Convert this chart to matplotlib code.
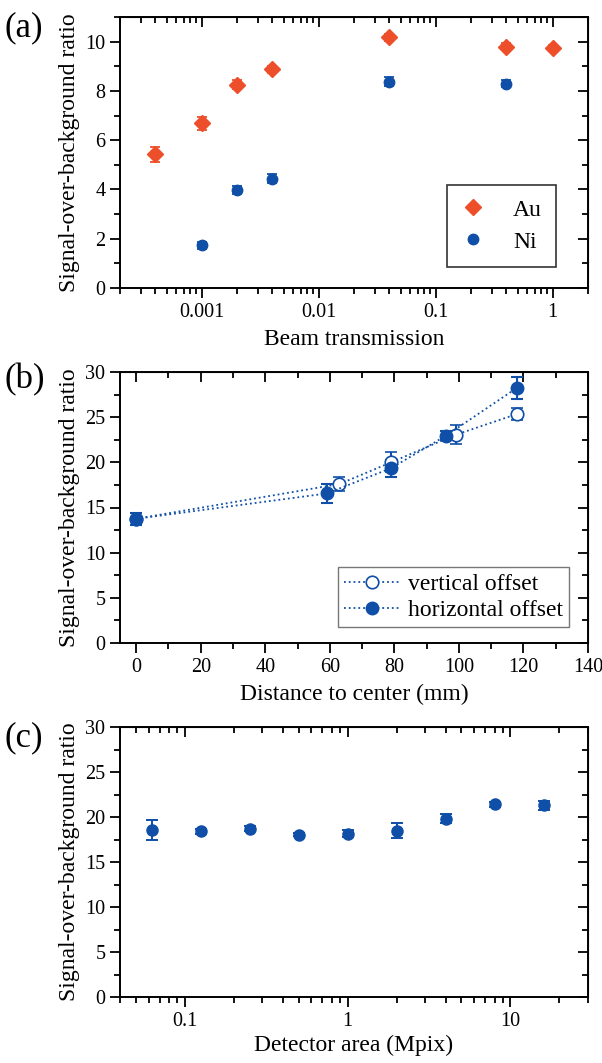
import numpy as np
import matplotlib
matplotlib.use("Agg")
import matplotlib.pyplot as plt
from matplotlib.ticker import LogLocator, MultipleLocator, FixedLocator, NullFormatter, FixedFormatter

plt.rcParams["font.family"] = ["Liberation Serif", "DejaVu Serif"]
plt.rcParams["mathtext.fontset"] = "stix"

ORANGE = "#EE4F2B"
BLUE = "#0F4FA8"

# (a) beam transmission
au_x = [0.0004, 0.001, 0.002, 0.004, 0.04, 0.4, 1.0]
au_y = [5.42, 6.68, 8.25, 8.87, 10.18, 9.80, 9.74]
au_err = [0.30, 0.25, 0.18, 0.15, 0.15, 0.14, 0.14]
ni_x = [0.001, 0.002, 0.004, 0.04, 0.4]
ni_y = [1.73, 3.98, 4.43, 8.38, 8.30]
ni_err = [0.15, 0.15, 0.18, 0.18, 0.15]

# (b) distance to center
vert_x = [0, 63, 79, 99, 118]
vert_y = [13.75, 17.6, 20.0, 23.05, 25.35]
vert_err = [0.65, 0.75, 1.1, 1.05, 0.7]
horiz_x = [0, 59, 79, 96, 118]
horiz_y = [13.75, 16.55, 19.35, 22.95, 28.25]
horiz_err = [0.65, 1.0, 0.95, 0.5, 1.2]

# (c) detector area
det_x = [0.0625, 0.125, 0.25, 0.5, 1, 2, 4, 8, 16]
det_y = [18.6, 18.4, 18.7, 18.05, 18.15, 18.5, 19.8, 21.4, 21.3]
det_err = [1.1, 0.3, 0.3, 0.2, 0.4, 0.8, 0.5, 0.3, 0.5]

TICK_FS = 14.5
LABEL_FS = 17
YLABEL = "Signal-over-background ratio"


def style_axes(ax, xlog=False):
    for s in ax.spines.values():
        s.set_linewidth(1.4)
    ax.tick_params(which="both", direction="out", width=1.3, labelsize=TICK_FS,
                   top=False, right=False)
    ax.tick_params(which="major", length=7)
    ax.tick_params(which="minor", length=4)
    # mirrored ticks pointing inward on top and right
    top = ax.secondary_xaxis("top")
    right = ax.secondary_yaxis("right")
    for sec in (top, right):
        sec.tick_params(which="both", direction="in", width=1.3, labelsize=0)
        sec.tick_params(which="major", length=7)
        sec.tick_params(which="minor", length=4)
    if xlog:
        top.xaxis.set_major_locator(LogLocator(base=10))
        top.xaxis.set_minor_locator(LogLocator(base=10, subs=np.arange(2, 10)))
    else:
        top.xaxis.set_major_locator(ax.xaxis.get_major_locator())
        top.xaxis.set_minor_locator(ax.xaxis.get_minor_locator())
    top.xaxis.set_major_formatter(NullFormatter())
    top.xaxis.set_minor_formatter(NullFormatter())
    right.yaxis.set_major_locator(ax.yaxis.get_major_locator())
    right.yaxis.set_minor_locator(ax.yaxis.get_minor_locator())
    right.yaxis.set_major_formatter(NullFormatter())


fig = plt.figure(figsize=(6.02, 10.63), dpi=100)
W, H = 602.0, 1063.0


def add_axes(top_px, bottom_px, left_px=120, right_px=588):
    return fig.add_axes([left_px / W, 1 - bottom_px / H,
                         (right_px - left_px) / W, (bottom_px - top_px) / H])


# ---- (a) ----
ax = add_axes(17, 288)
ax.set_xscale("log")
ax.errorbar(au_x, au_y, yerr=au_err, fmt="D", color=ORANGE, ms=8, capsize=3.5,
            elinewidth=1.3, capthick=1.3, label="Au")
ax.errorbar(ni_x, ni_y, yerr=ni_err, fmt="o", color=BLUE, ms=7.5, capsize=3.5,
            elinewidth=1.3, capthick=1.3, label="Ni")
ax.set_xlim(2e-4, 2)
ax.set_ylim(0, 11)
ax.yaxis.set_major_locator(MultipleLocator(2))
ax.yaxis.set_minor_locator(MultipleLocator(1))
ax.xaxis.set_major_locator(FixedLocator([0.001, 0.01, 0.1, 1]))
ax.xaxis.set_major_formatter(FixedFormatter(["0.001", "0.01", "0.1", "1"]))
ax.xaxis.set_minor_locator(LogLocator(base=10, subs=np.arange(2, 10)))
ax.xaxis.set_minor_formatter(NullFormatter())
ax.set_xlabel("Beam transmission", fontsize=LABEL_FS, labelpad=5)
ax.set_ylabel(YLABEL, fontsize=LABEL_FS, labelpad=4)
handles, labels = ax.get_legend_handles_labels()
hs = [h[0] for h in handles]
leg = ax.legend(hs, labels, loc="lower right", bbox_to_anchor=(0.932, 0.078),
                borderaxespad=0, fontsize=LABEL_FS, frameon=True, fancybox=False,
                handlelength=1.0, handletextpad=1.2, borderpad=0.6,
                labelspacing=0.45)
leg.get_frame().set_edgecolor("black")
leg.get_frame().set_linewidth(1.2)
style_axes(ax, xlog=True)

# ---- (b) ----
ax = add_axes(372, 643)
ax.errorbar(vert_x, vert_y, yerr=vert_err, fmt="o", ls=":", lw=1.3, color=BLUE,
            mfc="white", mec=BLUE, mew=1.2, ms=9, capsize=4, elinewidth=1.5,
            capthick=1.5, label="vertical offset")
ax.errorbar(horiz_x, horiz_y, yerr=horiz_err, fmt="o", ls=":", lw=1.3, color=BLUE,
            ms=9, capsize=4, elinewidth=1.5, capthick=1.5, label="horizontal offset")
ax.set_xlim(-5, 140)
ax.set_ylim(0, 30)
ax.xaxis.set_major_locator(MultipleLocator(20))
ax.xaxis.set_minor_locator(MultipleLocator(10))
ax.yaxis.set_major_locator(MultipleLocator(5))
ax.yaxis.set_minor_locator(MultipleLocator(2.5))
ax.set_xlabel("Distance to center (mm)", fontsize=LABEL_FS, labelpad=5)
ax.set_ylabel(YLABEL, fontsize=LABEL_FS, labelpad=4)
handles, labels = ax.get_legend_handles_labels()
hs = [h[0] for h in handles]
leg = ax.legend(hs, labels, loc="lower right", bbox_to_anchor=(0.959, 0.059),
                borderaxespad=0, fontsize=LABEL_FS, frameon=True, fancybox=False,
                handlelength=2.4, handletextpad=0.3, borderpad=0.25,
                labelspacing=0.2)
leg.get_frame().set_edgecolor("#555555")
leg.get_frame().set_linewidth(1.0)
style_axes(ax)

# ---- (c) ----
ax = add_axes(727, 997)
ax.set_xscale("log")
ax.errorbar(det_x, det_y, yerr=det_err, fmt="o", color=BLUE, ms=8, capsize=4,
            elinewidth=1.4, capthick=1.4)
ax.set_xlim(0.04, 30)
ax.set_ylim(0, 30)
ax.yaxis.set_major_locator(MultipleLocator(5))
ax.yaxis.set_minor_locator(MultipleLocator(2.5))
ax.xaxis.set_major_locator(FixedLocator([0.1, 1, 10]))
ax.xaxis.set_major_formatter(FixedFormatter(["0.1", "1", "10"]))
ax.xaxis.set_minor_locator(LogLocator(base=10, subs=np.arange(2, 10)))
ax.xaxis.set_minor_formatter(NullFormatter())
ax.set_xlabel("Detector area (Mpix)", fontsize=LABEL_FS, labelpad=3)
ax.set_ylabel(YLABEL, fontsize=LABEL_FS, labelpad=4)
style_axes(ax, xlog=True)

# panel letters
for txt, ypx in (("(a)", 28), ("(b)", 380), ("(c)", 738)):
    fig.text(4 / W, 1 - ypx / H, txt, fontsize=25, va="center", ha="left")

fig.savefig("out.png", dpi=100)
